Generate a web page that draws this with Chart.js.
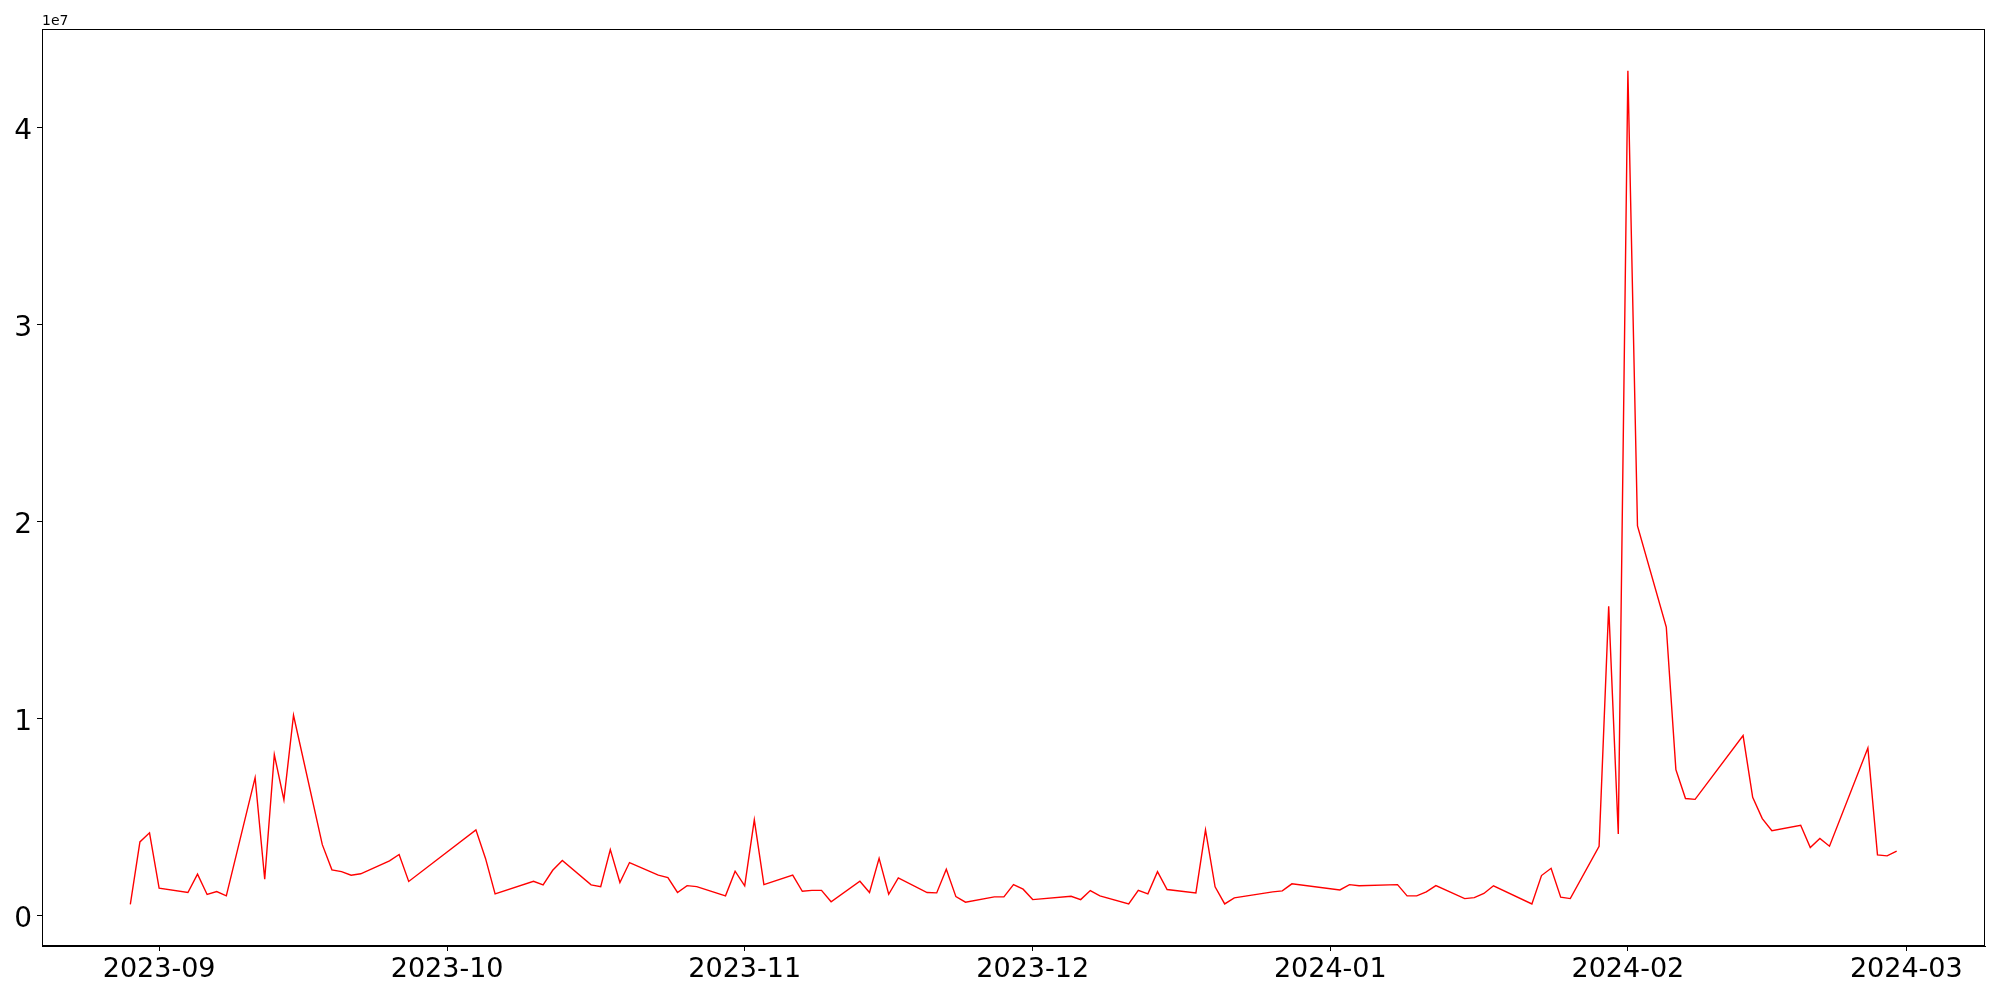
<!DOCTYPE html>
<html>
<head>
<meta charset="utf-8">
<script src="https://cdn.jsdelivr.net/npm/chart.js@4.4.1/dist/chart.umd.min.js"></script>
<style>
html, body { margin: 0; padding: 0; background: #fff; }
</style>
</head>
<body>
<canvas id="grafico" width="2000" height="1000"></canvas>
<script>
// DADOS
var dates = [
    '2023-08-29', '2023-08-30', '2023-08-31', '2023-09-01', '2023-09-04', '2023-09-05', '2023-09-06', '2023-09-07', '2023-09-08',
    '2023-09-11', '2023-09-12', '2023-09-13', '2023-09-14', '2023-09-15', '2023-09-18', '2023-09-19', '2023-09-20', '2023-09-21',
    '2023-09-22', '2023-09-25', '2023-09-26', '2023-09-27', '2023-10-04', '2023-10-05', '2023-10-06', '2023-10-10', '2023-10-11',
    '2023-10-12', '2023-10-13', '2023-10-16', '2023-10-17', '2023-10-18', '2023-10-19', '2023-10-20', '2023-10-23', '2023-10-24',
    '2023-10-25', '2023-10-26', '2023-10-27', '2023-10-30', '2023-10-31', '2023-11-01', '2023-11-02', '2023-11-03', '2023-11-06',
    '2023-11-07', '2023-11-08', '2023-11-09', '2023-11-10', '2023-11-13', '2023-11-14', '2023-11-15', '2023-11-16', '2023-11-17',
    '2023-11-20', '2023-11-21', '2023-11-22', '2023-11-23', '2023-11-24', '2023-11-27', '2023-11-28', '2023-11-29', '2023-11-30',
    '2023-12-01', '2023-12-05', '2023-12-06', '2023-12-07', '2023-12-08', '2023-12-11', '2023-12-12', '2023-12-13', '2023-12-14',
    '2023-12-15', '2023-12-18', '2023-12-19', '2023-12-20', '2023-12-21', '2023-12-22', '2023-12-26', '2023-12-27', '2023-12-28',
    '2024-01-02', '2024-01-03', '2024-01-04', '2024-01-08', '2024-01-09', '2024-01-10', '2024-01-11', '2024-01-12', '2024-01-15',
    '2024-01-16', '2024-01-17', '2024-01-18', '2024-01-22', '2024-01-23', '2024-01-24', '2024-01-25', '2024-01-26', '2024-01-29',
    '2024-01-30', '2024-01-31', '2024-02-01', '2024-02-02', '2024-02-05', '2024-02-06', '2024-02-07', '2024-02-08', '2024-02-13',
    '2024-02-14', '2024-02-15', '2024-02-16', '2024-02-19', '2024-02-20', '2024-02-21', '2024-02-22', '2024-02-26', '2024-02-27',
    '2024-02-28', '2024-02-29'
];

var values = [
    570000, 3740000, 4200000, 1390000, 1170000, 2100000, 1070000, 1220000, 1000000,
    7000000, 1840000, 8170000, 5870000, 10170000, 3600000, 2320000, 2230000, 2050000,
    2120000, 2780000, 3100000, 1730000, 4350000, 2900000, 1100000, 1740000, 1560000,
    2300000, 2800000, 1560000, 1460000, 3350000, 1680000, 2690000, 2050000, 1930000,
    1170000, 1520000, 1470000, 1000000, 2250000, 1510000, 4860000, 1570000, 2050000,
    1230000, 1280000, 1280000, 700000, 1740000, 1170000, 2900000, 1080000, 1910000,
    1170000, 1150000, 2350000, 960000, 680000, 950000, 950000, 1570000, 1340000,
    810000, 980000, 810000, 1270000, 1000000, 590000, 1280000, 1100000, 2230000,
    1320000, 1150000, 4350000, 1460000, 590000, 900000, 1200000, 1250000, 1610000,
    1300000, 1570000, 1510000, 1570000, 1000000, 1000000, 1200000, 1520000, 860000,
    910000, 1120000, 1510000, 590000, 2030000, 2400000, 930000, 860000, 3520000,
    15700000, 4140000, 42900000, 19780000, 14650000, 7410000, 5940000, 5900000, 9140000,
    6000000, 4920000, 4310000, 4580000, 3450000, 3910000, 3520000, 8510000, 3080000,
    3030000, 3270000
];

var xTickLabels = ['2023-09', '2023-10', '2023-11', '2023-12', '2024-01', '2024-02', '2024-03'];
var yTickValues = [0, 10000000, 20000000, 30000000, 40000000];

// GRAFICO
function toTime(s) {
    return Date.parse(s + 'T00:00:00Z');
}

var pontos = dates.map(function (d, i) {
    return { x: toTime(d), y: values[i] };
});

var xs = pontos.map(function (p) { return p.x; });
var xMinData = Math.min.apply(null, xs);
var xMaxData = Math.max.apply(null, xs);
var xMargem = (xMaxData - xMinData) * 0.05;
var yMinData = Math.min.apply(null, values);
var yMaxData = Math.max.apply(null, values);
var yMargem = (yMaxData - yMinData) * 0.05;

var fonte = "'DejaVu Sans', sans-serif";

var molduraPlugin = {
    id: 'moldura',
    afterDraw: function (chart) {
        var ctx = chart.ctx;
        var a = chart.chartArea;
        ctx.save();
        ctx.strokeStyle = '#000';
        ctx.lineWidth = 1;
        ctx.strokeRect(Math.round(a.left) + 0.5, Math.round(a.top) + 0.5,
            Math.round(a.right - a.left) - 1, Math.round(a.bottom - a.top) - 1);
        // multiplicador do eixo Y
        ctx.fillStyle = '#000';
        ctx.font = '14px ' + fonte;
        ctx.textAlign = 'left';
        ctx.textBaseline = 'alphabetic';
        ctx.fillText('1e7', a.left, 25);
        ctx.restore();
    }
};

var ctx = document.getElementById('grafico').getContext('2d');

var grafico = new Chart(ctx, {
    type: 'line',
    data: {
        datasets: [{
            data: pontos,
            borderColor: '#ff0000',
            borderWidth: 1.4,
            pointRadius: 0,
            tension: 0,
            fill: false
        }]
    },
    options: {
        responsive: false,
        animation: false,
        layout: {
            padding: { top: 29, right: 15, left: 0, bottom: 0 }
        },
        plugins: {
            legend: { display: false },
            tooltip: { enabled: false }
        },
        scales: {
            x: {
                type: 'linear',
                min: xMinData - xMargem,
                max: xMaxData + xMargem,
                afterFit: function (scale) { scale.height = 54; },
                afterBuildTicks: function (scale) {
                    scale.ticks = xTickLabels.map(function (m) {
                        return { value: toTime(m + '-01') };
                    });
                },
                ticks: {
                    autoSkip: false,
                    maxRotation: 0,
                    padding: 3,
                    color: '#000',
                    font: { family: fonte, size: 27 },
                    callback: function (v) {
                        return new Date(v).toISOString().slice(0, 7);
                    }
                },
                grid: {
                    drawOnChartArea: false,
                    drawTicks: true,
                    tickLength: 5,
                    tickColor: '#000'
                },
                border: { display: true, color: '#000', width: 1 }
            },
            y: {
                type: 'linear',
                min: yMinData - yMargem,
                max: yMaxData + yMargem,
                afterFit: function (scale) { scale.width = 42; },
                afterBuildTicks: function (scale) {
                    scale.ticks = yTickValues.map(function (v) {
                        return { value: v };
                    });
                },
                ticks: {
                    padding: 5,
                    labelOffset: 4,
                    color: '#000',
                    font: { family: fonte, size: 28 },
                    callback: function (v) {
                        return String(Math.round(v / 1e7));
                    }
                },
                grid: {
                    drawOnChartArea: false,
                    drawTicks: true,
                    tickLength: 5,
                    tickColor: '#000'
                },
                border: { display: true, color: '#000', width: 1 }
            }
        }
    },
    plugins: [molduraPlugin]
});
</script>
</body>
</html>
